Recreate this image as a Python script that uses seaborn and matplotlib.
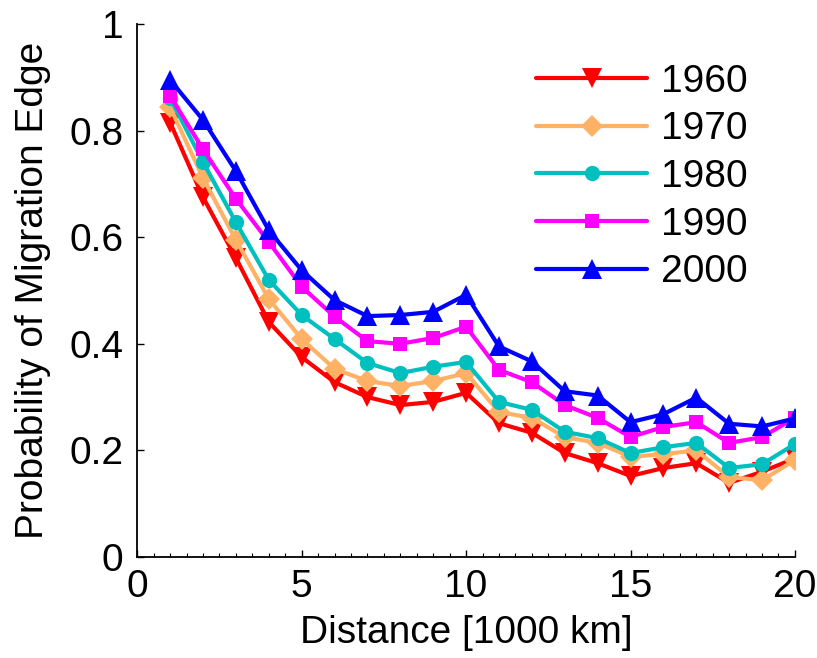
import matplotlib
matplotlib.use("Agg")
import matplotlib.pyplot as plt
from matplotlib.ticker import MultipleLocator
import pandas as pd
import seaborn as sns

# distance bins [1000 km]
distance = list(range(1, 21))

# probability of a migration edge
p1960 = [0.815, 0.675, 0.561, 0.441, 0.375, 0.328, 0.300, 0.285, 0.291, 0.308,
         0.251, 0.233, 0.195, 0.176, 0.152, 0.167, 0.176, 0.139, 0.160, 0.185]
p1970 = [0.844, 0.711, 0.595, 0.484, 0.409, 0.353, 0.330, 0.321, 0.330, 0.345,
         0.272, 0.261, 0.225, 0.214, 0.188, 0.193, 0.200, 0.150, 0.144, 0.182]
p1980 = [0.861, 0.741, 0.628, 0.520, 0.454, 0.409, 0.364, 0.345, 0.357, 0.366,
         0.291, 0.276, 0.235, 0.223, 0.195, 0.206, 0.214, 0.167, 0.174, 0.212]
p1990 = [0.865, 0.765, 0.672, 0.591, 0.507, 0.451, 0.405, 0.400, 0.411, 0.432,
         0.351, 0.328, 0.285, 0.261, 0.225, 0.244, 0.253, 0.214, 0.225, 0.261]
p2000 = [0.895, 0.820, 0.724, 0.613, 0.538, 0.482, 0.452, 0.454, 0.460, 0.492,
         0.395, 0.367, 0.311, 0.303, 0.253, 0.268, 0.299, 0.250, 0.245, 0.260]

years = ["1960", "1970", "1980", "1990", "2000"]
colors = ["#ff0000", "#ffb266", "#00bfbf", "#ff00ff", "#0000ff"]
markers = ["v", "D", "o", "s", "^"]
msizes = [14, 11, 11, 10, 14]

df = pd.DataFrame({"distance": distance, "1960": p1960, "1970": p1970,
                   "1980": p1980, "1990": p1990, "2000": p2000})
df = df.melt(id_vars="distance", var_name="year", value_name="prob")

sns.set_style("ticks")
plt.rcParams["font.family"] = ["Liberation Sans", "DejaVu Sans"]
plt.rcParams.update({"text.color": "black", "axes.labelcolor": "black",
                     "xtick.color": "black", "ytick.color": "black",
                     "axes.edgecolor": "black",
                     "xtick.direction": "in", "ytick.direction": "in"})

fig = plt.figure(figsize=(8.17, 6.58), dpi=100)
ax = fig.add_axes([0.168, 0.1535, 0.805, 0.81])

for yr, c, m, ms in zip(years, colors, markers, msizes):
    sns.lineplot(data=df[df["year"] == yr], x="distance", y="prob", ax=ax,
                 color=c, marker=m, markersize=ms, markeredgecolor=c,
                 markeredgewidth=0, linewidth=3, label=yr)

ax.set_xlim(0, 20)
ax.set_ylim(0, 1)
ax.set_xticks([0, 5, 10, 15, 20])
ax.set_yticks([0, 0.2, 0.4, 0.6, 0.8, 1])
ax.set_yticklabels(["0", "0.2", "0.4", "0.6", "0.8", "1"])
ax.xaxis.set_minor_locator(MultipleLocator(0.5))
ax.tick_params(axis="y", which="major", pad=10)
ax.tick_params(axis="x", which="major", pad=9)
ax.tick_params(which="major", labelsize=28, length=5, width=1.0, direction="in")
ax.tick_params(which="minor", length=3, width=0.8, direction="in")
ax.set_xlabel("Distance [1000 km]", fontsize=28, labelpad=7)
ax.set_ylabel("Probability of Migration Edge", fontsize=28, labelpad=13)
for s in ["left", "bottom"]:
    ax.spines[s].set_linewidth(1.3)
sns.despine(ax=ax)

leg = ax.legend(loc="upper right", frameon=False, fontsize=28, handlelength=2.85,
                labelspacing=0.3, handletextpad=0.35, borderaxespad=0.0,
                bbox_to_anchor=(0.951, 0.955))

fig.savefig("out.png", dpi=100)
